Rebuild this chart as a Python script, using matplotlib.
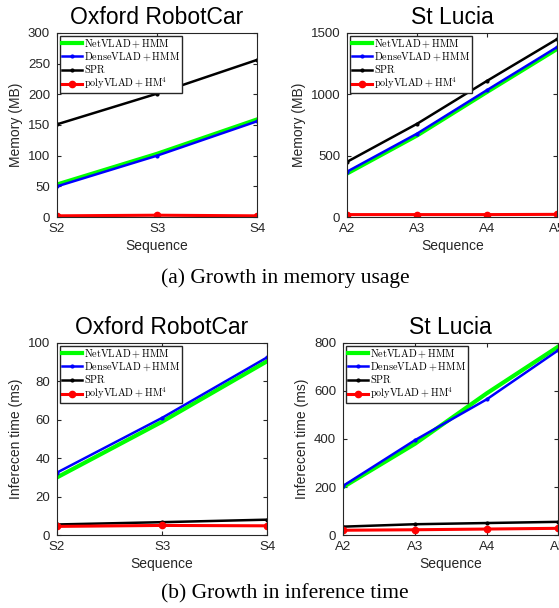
import numpy as np
import matplotlib.pyplot as plt

# Data
oxford_seq = ['S2', 'S3', 'S4']
lucia_seq = ['A2', 'A3', 'A4', 'A5']

mem_oxford_netvlad = [53, 103, 159]
mem_oxford_densevlad = [50, 100, 156]
mem_oxford_spr = [151, 201, 256]
mem_oxford_poly = [2, 3, 2]

mem_lucia_netvlad = [355, 665, 1020, 1370]
mem_lucia_densevlad = [370, 680, 1035, 1385]
mem_lucia_spr = [450, 760, 1110, 1450]
mem_lucia_poly = [20, 20, 20, 22]

time_oxford_netvlad = [30, 59, 90.5]
time_oxford_densevlad = [32.5, 61, 92.5]
time_oxford_spr = [5.5, 6.7, 8.0]
time_oxford_poly = [4.5, 5.0, 4.8]

time_lucia_netvlad = [200, 380, 590, 785]
time_lucia_densevlad = [205, 395, 565, 770]
time_lucia_spr = [35, 45, 50, 55]
time_lucia_poly = [20, 22, 25, 28]

labels = [r'$\mathrm{NetVLAD+HMM}$', r'$\mathrm{DenseVLAD+HMM}$',
          r'$\mathrm{SPR}$', r'$\mathrm{polyVLAD+HM}^4$']

plt.rcParams['font.family'] = ['Liberation Sans', 'DejaVu Sans']
plt.rcParams['mathtext.fontset'] = 'cm'

fig = plt.figure(figsize=(5.59, 6.08), dpi=100)


def panel(rect, seq, net, dense, spr, poly, title, ylabel, ylim, yticks):
    ax = fig.add_axes(rect)
    x = np.arange(len(seq))
    ax.plot(x, net, color='#00ff00', lw=3, label=labels[0])
    ax.plot(x, dense, color='#0000ff', lw=1.8, marker='.', ms=4, label=labels[1])
    ax.plot(x, spr, color='black', lw=1.8, marker='.', ms=4, label=labels[2])
    ax.plot(x, poly, color='#ff0000', lw=2.2, marker='o', ms=4.5, label=labels[3])
    ax.set_xlim(0, len(seq) - 1)
    ax.set_ylim(*ylim)
    ax.set_xticks(x)
    ax.set_xticklabels(seq)
    ax.set_yticks(yticks)
    ax.tick_params(direction='in', top=True, right=True, labelsize=9.5,
                   colors='#262626', length=3)
    ax.tick_params(axis='y', pad=5)
    ax.tick_params(axis='x', pad=4)
    for s in ax.spines.values():
        s.set_color('#262626')
        s.set_linewidth(0.8)
    ax.set_title(title, fontsize=16.5, pad=6.5)
    ax.set_xlabel('Sequence', fontsize=10, color='#262626', labelpad=3)
    ax.set_ylabel(ylabel, fontsize=10, color='#262626', labelpad=3.5)
    ax.legend(loc='upper left', prop={'size': 7.4},
              fancybox=False, edgecolor='#262626', framealpha=1,
              handlelength=2.0, handletextpad=0.2, borderpad=0.15,
              labelspacing=0.05, borderaxespad=0.3)
    return ax


panel([0.102, 0.643, 0.358, 0.303], oxford_seq, mem_oxford_netvlad,
      mem_oxford_densevlad, mem_oxford_spr, mem_oxford_poly,
      'Oxford RobotCar', 'Memory (MB)', (0, 300), range(0, 301, 50))
panel([0.621, 0.643, 0.376, 0.303], lucia_seq, mem_lucia_netvlad,
      mem_lucia_densevlad, mem_lucia_spr, mem_lucia_poly,
      'St Lucia', 'Memory (MB)', (0, 1500), range(0, 1501, 500))
panel([0.102, 0.120, 0.376, 0.316], oxford_seq, time_oxford_netvlad,
      time_oxford_densevlad, time_oxford_spr, time_oxford_poly,
      'Oxford RobotCar', 'Inferecen time (ms)', (0, 100), range(0, 101, 20))
panel([0.614, 0.120, 0.385, 0.316], lucia_seq, time_lucia_netvlad,
      time_lucia_densevlad, time_lucia_spr, time_lucia_poly,
      'St Lucia', 'Inferecen time (ms)', (0, 800), range(0, 801, 200))

fig.text(285 / 559, 1 - 278 / 608, '(a) Growth in memory usage', ha='center', va='center',
         family='Liberation Serif', fontsize=15.5)
fig.text(285 / 559, 1 - 594 / 608, '(b) Growth in inference time', ha='center', va='center',
         family='Liberation Serif', fontsize=15.5)

fig.savefig('out.png', dpi=100)
